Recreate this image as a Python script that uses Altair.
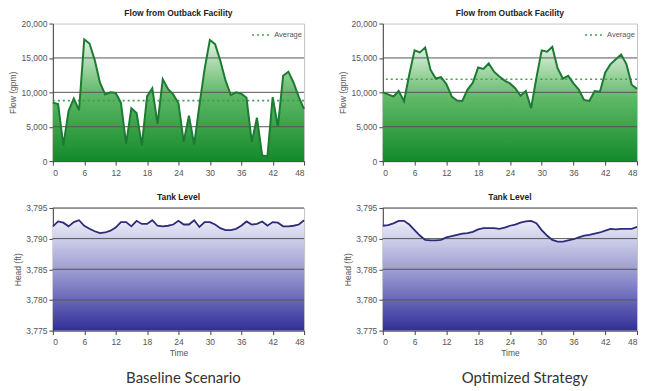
import altair as alt
import pandas as pd

hours = list(range(49))
x_ticks = [0, 6, 12, 18, 24, 30, 36, 42, 48]

flow_base = [8500, 8300, 2300, 7300, 9100, 7400, 17700, 17100, 14700, 11400,
             9700, 10000, 9900, 8500, 2500, 7700, 7000, 2300, 9400, 10600,
             5400, 11900, 10500, 9700, 8400, 2800, 6600, 2400, 8100, 13400,
             17600, 17000, 14600, 11700, 9600, 10000, 9800, 9200, 2800, 6300,
             800, 700, 9300, 5000, 12400, 13000, 11400, 9300, 7600]
flow_opt = [10000, 9700, 9400, 10200, 8700, 12600, 16100, 15800, 16500, 13300,
            12000, 12200, 11200, 9400, 8800, 8750, 10400, 11400, 13600, 13400,
            14200, 13000, 12300, 11700, 11300, 10600, 9500, 10200, 7700, 12100,
            16100, 15900, 16600, 13500, 12000, 12400, 11300, 10400, 8900, 8750,
            10200, 10100, 12900, 14100, 14800, 15500, 14100, 11100, 10500]
avg_base = 8800
avg_opt = 11900

tank_base = [3792.0, 3792.8, 3792.6, 3792.0, 3792.7, 3793.0, 3792.1, 3791.6, 3791.2, 3790.9,
             3791.0, 3791.3, 3791.8, 3792.7, 3792.7, 3792.0, 3792.9, 3792.4, 3792.4, 3793.0,
             3792.1, 3792.0, 3792.1, 3792.3, 3792.9, 3792.3, 3792.3, 3793.0, 3791.9, 3792.7,
             3792.7, 3792.3, 3791.7, 3791.4, 3791.4, 3791.6, 3792.1, 3792.8, 3792.3, 3792.4,
             3792.8, 3792.1, 3792.7, 3792.6, 3792.0, 3792.0, 3792.1, 3792.3, 3793.0]
tank_opt = [3792.1, 3792.2, 3792.5, 3792.9, 3792.9, 3792.3, 3791.4, 3790.5, 3789.8, 3789.7,
            3789.7, 3789.8, 3790.2, 3790.4, 3790.6, 3790.8, 3790.9, 3791.1, 3791.5, 3791.7,
            3791.7, 3791.7, 3791.6, 3791.8, 3792.1, 3792.3, 3792.6, 3792.8, 3792.9, 3792.5,
            3791.4, 3790.5, 3789.8, 3789.5, 3789.5, 3789.7, 3789.9, 3790.2, 3790.5, 3790.6,
            3790.8, 3791.0, 3791.3, 3791.6, 3791.5, 3791.6, 3791.6, 3791.6, 3791.9]

flow_ticks = [0, 5000, 10000, 15000, 20000]
flow_grid = [5000, 10000, 15000]
tank_ticks = [3775, 3780, 3785, 3790, 3795]
tank_grid = [3780, 3785, 3790, 3795]

GREEN_LINE = "#1d7a33"
GREEN_AVG = "#3f9e50"
NAVY_LINE = "#2c2c78"
GRID = "#555555"
W_LEFT = 252
W_RIGHT = 255
H_TOP = 138
H_BOT = 123

green_grad = alt.Gradient(
    gradient="linear",
    stops=[alt.GradientStop(color="#e2f2e2", offset=0),
           alt.GradientStop(color="#5fb866", offset=0.45),
           alt.GradientStop(color="#138a2b", offset=1)],
    x1=1, x2=1, y1=0, y2=1)
blue_grad = alt.Gradient(
    gradient="linear",
    stops=[alt.GradientStop(color="#ececf8", offset=0),
           alt.GradientStop(color="#9494ce", offset=0.5),
           alt.GradientStop(color="#312f98", offset=1)],
    x1=1, x2=1, y1=0, y2=1)

XSCALE = alt.Scale(domain=[0, 48], nice=False)


def x_axis(title):
    if title:
        return alt.Axis(values=x_ticks, grid=False, tickSize=4, labelPadding=3,
                        labelOverlap=False, title=title)
    return alt.Axis(values=x_ticks, grid=False, tickSize=4, labelPadding=3,
                    labelOverlap=False, title=None)


def y_axis(ticks, title):
    return alt.Axis(values=ticks, format=",d", grid=False, labelOverlap=False,
                    title=title, tickSize=4)


def flow_panel(values, avg, width):
    df = pd.DataFrame({"Time": hours, "Flow": values})
    yscale = alt.Scale(domain=[0, 20000], nice=False)
    yax = y_axis(flow_ticks, "Flow (gpm)")
    xax = x_axis(None)
    area = alt.Chart(df).mark_area(color=green_grad).encode(
        x=alt.X("Time:Q", scale=XSCALE, axis=xax),
        y=alt.Y("Flow:Q", scale=yscale, axis=yax))
    grid = alt.Chart(pd.DataFrame({"g": flow_grid})).mark_rule(
        color=GRID, strokeWidth=1).encode(
        y=alt.Y("g:Q", scale=yscale, axis=yax, title="Flow (gpm)"))
    avg_df = pd.DataFrame({"avg": [avg], "name": ["Average"]})
    avg_rule = alt.Chart(avg_df).mark_rule(strokeDash=[2, 3], strokeWidth=1.6).encode(
        y=alt.Y("avg:Q", scale=yscale, axis=yax, title="Flow (gpm)"),
        color=alt.Color("name:N", scale=alt.Scale(range=[GREEN_AVG]),
                        legend=alt.Legend(title=None, orient="top-right", offset=1,
                                          padding=1, symbolType="stroke",
                                          symbolDash=[2, 3], symbolStrokeWidth=1.6,
                                          symbolSize=300, labelFontSize=7.5,
                                          labelColor="#555555",
                                          labelFont="Liberation Sans")))
    line = alt.Chart(df).mark_line(color=GREEN_LINE, strokeWidth=2).encode(
        x=alt.X("Time:Q", scale=XSCALE, axis=xax),
        y=alt.Y("Flow:Q", scale=yscale, axis=yax))
    return alt.layer(area, grid, avg_rule, line).properties(
        width=width, height=H_TOP,
        title=alt.TitleParams("Flow from Outback Facility", fontSize=8.5,
                              font="Liberation Sans", fontWeight="bold",
                              color="#222222", offset=2))


def tank_panel(values, width):
    df = pd.DataFrame({"Time": hours, "Head": values})
    yscale = alt.Scale(domain=[3775, 3795], nice=False, zero=False)
    yax = y_axis(tank_ticks, "Head (ft)")
    xax = x_axis("Time")
    area = alt.Chart(df).mark_area(color=blue_grad).encode(
        x=alt.X("Time:Q", scale=XSCALE, axis=xax),
        y=alt.Y("Head:Q", scale=yscale, axis=yax), y2=alt.datum(3775))
    grid = alt.Chart(pd.DataFrame({"g": tank_grid})).mark_rule(
        color=GRID, strokeWidth=1).encode(
        y=alt.Y("g:Q", scale=yscale, axis=yax, title="Head (ft)"))
    line = alt.Chart(df).mark_line(color=NAVY_LINE, strokeWidth=1.8).encode(
        x=alt.X("Time:Q", scale=XSCALE, axis=xax),
        y=alt.Y("Head:Q", scale=yscale, axis=yax))
    return alt.layer(area, grid, line).properties(
        width=width, height=H_BOT,
        title=alt.TitleParams("Tank Level", fontSize=8.5, font="Liberation Sans",
                              fontWeight="bold", color="#222222", offset=2))


def caption(text, dx):
    return alt.TitleParams(text, orient="bottom", anchor="middle", fontSize=15,
                           font="Lato", fontWeight="normal", color="#333333",
                           offset=14, dx=dx)


def column(flow_vals, avg, tank_vals, text, width, dx):
    return alt.vconcat(flow_panel(flow_vals, avg, width), tank_panel(tank_vals, width),
                       spacing=16).resolve_scale(color="independent").resolve_legend(
        color="independent").properties(title=caption(text, dx))


left = column(flow_base, avg_base, tank_base, "Baseline Scenario", W_LEFT, 25)
right = column(flow_opt, avg_opt, tank_opt, "Optimized Strategy", W_RIGHT, 35)

chart = alt.hconcat(left, right, spacing=29).resolve_scale(
    color="independent").resolve_legend(color="independent").properties(
    padding={"left": 0, "top": 0, "right": 0, "bottom": 0}
).configure_view(stroke="#c4c4c4", strokeWidth=1).configure_axis(
    domainColor="#444444", tickColor="#444444", labelColor="#555555",
    labelFont="Liberation Sans", labelFontSize=8.5, titleFont="Liberation Sans",
    titleFontSize=8.5, titleFontWeight="normal", titleColor="#555555",
    titlePadding=3
).configure_axisX(titlePadding=2)

chart.save("out.html", embed_options={"renderer": "svg", "actions": False})
